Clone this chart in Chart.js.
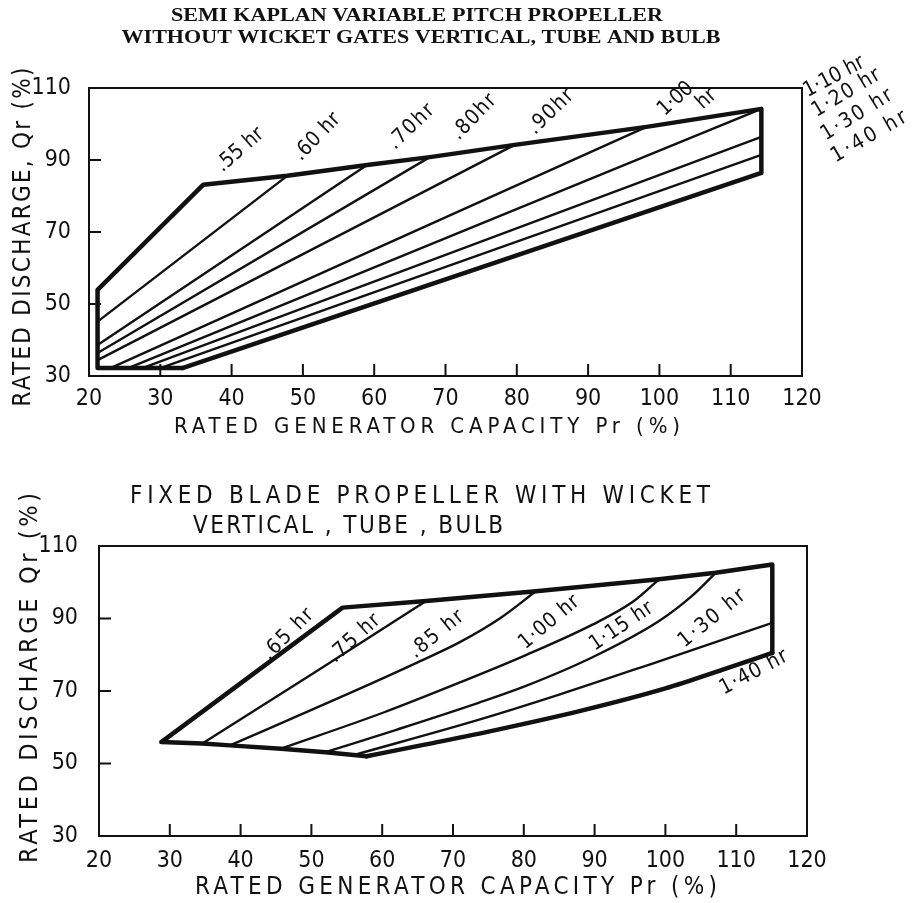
<!DOCTYPE html>
<html>
<head>
<meta charset="utf-8">
<script src="https://cdn.jsdelivr.net/npm/chart.js@4.4.1/dist/chart.umd.min.js"></script>
<style>
  html, body { margin: 0; padding: 0; background: #fff; }
  #wrap { position: relative; width: 912px; height: 903px; }
  canvas { position: absolute; left: 0; }
  #semi { top: 0; }
  #fixed { top: 445px; }
</style>
</head>
<body>
<div id="wrap">
  <canvas id="semi" width="912" height="445"></canvas>
  <canvas id="fixed" width="912" height="458"></canvas>
</div>
<script>
/******************************************************************
DATA  (x = rated generator capacity Pr %, y = rated discharge Qr %)
******************************************************************/

var xTicks = [20, 30, 40, 50, 60, 70, 80, 90, 100, 110, 120];
var yTicks = [30, 50, 70, 90, 110];

// semi kaplan: outer envelope (.55 hr edge, top edge, 1.40 hr edge)
var semiEnvelope = [[33.1, 32.2], [21.2, 32.2], [21.2, 53.9], [36.0, 83.1], [47.8, 85.6],
  [59.0, 88.6], [67.8, 90.8], [79.7, 94.2], [98.2, 99.2], [114.3, 104.2], [114.3, 86.4], [33.1, 32.2]];
var semi060 = [[21.2, 45.1], [47.8, 85.6]];
var semi070 = [[21.2, 38.6], [59.0, 88.6]];
var semi080 = [[21.2, 36.4], [67.8, 90.8]];
var semi090 = [[21.2, 34.4], [79.7, 94.2]];
var semi100 = [[23.0, 32.2], [98.2, 99.2]];
var semi110 = [[25.5, 32.2], [114.3, 104.2]];
var semi120 = [[27.5, 32.2], [114.3, 96.4]];
var semi130 = [[30.0, 32.2], [114.3, 91.4]];

// fixed blade: outer envelope (bottom edge, .65 hr edge, top edge, right edge)
var fixedEnvelope = [[57.8, 52.0], [52.0, 53.1], [45.7, 54.1], [38.5, 55.0], [34.6, 55.5], [28.8, 55.9],
  [54.4, 93.0], [66.2, 94.8], [81.7, 97.5], [99.1, 100.8], [107.1, 102.6], [115.1, 104.9], [115.1, 80.5]];
var fixed140 = [[57.8, 52.0], [66.0, 55.2], [76.0, 59.2], [88.0, 64.5], [100.0, 70.7], [108.0, 75.8], [115.1, 80.5]];
var fixed075 = [[34.6, 55.5], [50.5, 75.2], [66.2, 94.8]];
var fixed085 = [[38.5, 55.0], [55.4, 69.4], [65.0, 77.9], [70.9, 83.4], [76.6, 90.0], [81.7, 97.5]];
var fixed100 = [[45.7, 54.1], [60.1, 64.0], [70.9, 72.3], [80.3, 79.9], [89.7, 88.3], [95.4, 94.6], [99.1, 100.8]];
var fixed115 = [[52.1, 53.2], [62.0, 59.3], [73.7, 66.8], [80.3, 71.4], [89.7, 79.3], [99.1, 89.3], [103.8, 96.3], [107.1, 102.6]];
var fixed130 = [[56.3, 52.5], [73.7, 62.1], [85.0, 69.0], [99.1, 78.2], [115.1, 88.8]];

var semiHours = ['.55 hr', '.60 hr', '.70hr', '.80hr', '.90hr', '1·00', 'hr', '1·10 hr', '1·20 hr', '1·30 hr', '1·40 hr'];
var fixedHours = ['.65 hr', '.75 hr', '.85 hr', '1·00 hr', '1·15 hr', '1·30 hr', '1·40 hr'];


/******************************************************************
HELPERS
******************************************************************/

var ink = '#111';

function pickFont(list) {
  var c = document.createElement('canvas').getContext('2d');
  var probe = 'RATED 0123456789 hr';
  c.font = '40px monospace';
  var base = c.measureText(probe).width;
  for (var i = 0; i < list.length; i++) {
    c.font = "40px '" + list[i] + "', monospace";
    if (Math.abs(c.measureText(probe).width - base) > 0.5) return "'" + list[i] + "'";
  }
  return 'sans-serif';
}
var hand = pickFont(['Liberation Sans Narrow', 'DejaVu Sans Condensed', 'Liberation Sans']) + ', sans-serif';
var serif = "'Liberation Serif', 'DejaVu Serif', serif";

function path(points, width, smooth) {
  return {
    data: points.map(function (p) { return { x: p[0], y: p[1] }; }),
    showLine: true,
    borderColor: ink,
    borderWidth: width,
    pointRadius: 0,
    fill: false,
    tension: 0,
    cubicInterpolationMode: smooth ? 'monotone' : 'default',
    borderJoinStyle: 'round',
    borderCapStyle: 'round'
  };
}

// box round the plot and short ticks pointing inwards
var framePlugin = {
  id: 'frame',
  afterDatasetsDraw: function (chart) {
    var a = chart.chartArea, ctx = chart.ctx;
    var sx = chart.scales.x, sy = chart.scales.y;
    ctx.save();
    ctx.strokeStyle = ink;
    ctx.lineWidth = 2;
    ctx.strokeRect(a.left, a.top, a.right - a.left, a.bottom - a.top);
    ctx.beginPath();
    sx.ticks.forEach(function (t) {
      var px = sx.getPixelForValue(t.value);
      ctx.moveTo(px, a.bottom);
      ctx.lineTo(px, a.bottom - 12);
    });
    sy.ticks.forEach(function (t) {
      var py = sy.getPixelForValue(t.value);
      ctx.moveTo(a.left, py);
      ctx.lineTo(a.left + 12, py);
    });
    ctx.stroke();
    ctx.restore();
  }
};

// free text: titles, axis titles, hour labels on the curves
function notesPlugin(notes) {
  return {
    id: 'notes',
    afterDraw: function (chart) {
      var ctx = chart.ctx;
      notes.forEach(function (n) {
        var x = n.px ? n.px[0] : chart.scales.x.getPixelForValue(n.at[0]);
        var y = n.px ? n.px[1] : chart.scales.y.getPixelForValue(n.at[1]);
        ctx.save();
        ctx.translate(x, y);
        ctx.rotate((n.rot || 0) * Math.PI / 180);
        ctx.font = (n.bold ? 'bold ' : '') + n.size + 'px ' + (n.serif ? serif : hand);
        ctx.fillStyle = ink;
        ctx.textAlign = 'center';
        ctx.textBaseline = 'middle';
        if (n.w) {
          var w0 = ctx.measureText(n.t).width;
          if (n.fit === 'scale') {
            ctx.scale(n.w / w0, 1);
          } else {
            var sp = (n.w - w0) / Math.max(n.t.length - 1, 1);
            ctx.letterSpacing = sp.toFixed(2) + 'px';
            ctx.translate(sp / 2, 0);
          }
        }
        ctx.fillText(n.t, 0, 0);
        ctx.letterSpacing = '0px';
        ctx.restore();
      });
    }
  };
}

function makeChart(id, datasets, box, notes) {
  return new Chart(document.getElementById(id), {
    type: 'scatter',
    data: { datasets: datasets },
    options: {
      responsive: false,
      animation: false,
      events: [],
      layout: { padding: { top: box.top, right: box.right, left: 0, bottom: 0 } },
      plugins: { legend: { display: false }, tooltip: { enabled: false } },
      scales: {
        x: {
          type: 'linear', min: 20, max: 120,
          grid: { display: false }, border: { display: false },
          afterBuildTicks: function (s) { s.ticks = xTicks.map(function (v) { return { value: v }; }); },
          afterFit: function (s) { s.height = box.xh; },
          ticks: { color: ink, font: { family: hand, size: box.tick }, padding: box.xpad, maxRotation: 0, autoSkip: false }
        },
        y: {
          type: 'linear', min: 30, max: 110,
          grid: { display: false }, border: { display: false },
          afterBuildTicks: function (s) { s.ticks = yTicks.map(function (v) { return { value: v }; }); },
          afterFit: function (s) { s.width = box.yw; },
          ticks: { color: ink, font: { family: hand, size: box.tick }, padding: box.ypad, autoSkip: false }
        }
      }
    },
    plugins: [framePlugin, notesPlugin(notes)]
  });
}


/******************************************************************
SEMI KAPLAN CHART
******************************************************************/

makeChart('semi', [
  path(semiEnvelope, 4.5),
  path(semi060, 2.4), path(semi070, 2.4), path(semi080, 2.4), path(semi090, 2.4),
  path(semi100, 2.4), path(semi110, 2.4), path(semi120, 2.4), path(semi130, 2.4)
], { top: 88, right: 110, xh: 69, yw: 89, tick: 23, xpad: 1, ypad: 10 }, [
  { t: 'SEMI KAPLAN VARIABLE PITCH PROPELLER', px: [417, 16], size: 18, bold: true, serif: true, w: 492, fit: 'scale' },
  { t: 'WITHOUT WICKET GATES VERTICAL, TUBE AND BULB', px: [421, 38], size: 18, bold: true, serif: true, w: 599, fit: 'scale' },
  { t: 'RATED GENERATOR CAPACITY Pr (%)', px: [427, 427], size: 22, w: 506 },
  { t: 'RATED DISCHARGE, Qr (%)', px: [24, 237], rot: -90, size: 24, w: 339 },
  { t: semiHours[0], at: [41.2, 92.8], rot: -41, size: 21, w: 56 },
  { t: semiHours[1], at: [52.0, 96.4], rot: -46, size: 21, w: 58 },
  { t: semiHours[2], at: [65.2, 99.2], rot: -44, size: 21, w: 56 },
  { t: semiHours[3], at: [74.0, 101.9], rot: -46, size: 21, w: 55 },
  { t: semiHours[4], at: [84.8, 103.3], rot: -44, size: 21, w: 55 },
  { t: semiHours[5], at: [102.3, 106.9], rot: -42, size: 21, w: 40 },
  { t: semiHours[6], at: [106.6, 106.9], rot: -42, size: 21 },
  { t: semiHours[7], at: [124.5, 113.1], rot: -28, size: 21, w: 66 },
  { t: semiHours[8], at: [126.2, 108.6], rot: -31, size: 21, w: 76 },
  { t: semiHours[9], at: [127.7, 102.5], rot: -32, size: 21, w: 80 },
  { t: semiHours[10], at: [129.4, 96.4], rot: -30, size: 21, w: 84 }
]);


/******************************************************************
FIXED BLADE CHART
******************************************************************/

makeChart('fixed', [
  path(fixedEnvelope, 4.5),
  path(fixed140, 4.5, true),
  path(fixed075, 2.4, true), path(fixed085, 2.4, true), path(fixed100, 2.4, true),
  path(fixed115, 2.4, true), path(fixed130, 2.4, true)
], { top: 101, right: 105, xh: 67, yw: 99, tick: 23, xpad: 3, ypad: 13 }, [
  { t: 'FIXED BLADE PROPELLER WITH WICKET', px: [420, 52], size: 24, w: 580 },
  { t: 'VERTICAL , TUBE , BULB', px: [348, 82], size: 24, w: 310 },
  { t: 'RATED GENERATOR CAPACITY Pr (%)', px: [456, 443], size: 24, w: 522 },
  { t: 'RATED DISCHARGE Qr (%)', px: [30, 233], rot: -90, size: 25, w: 370 },
  { t: fixedHours[0], at: [46.7, 85.6], rot: -45, size: 21, w: 64 },
  { t: fixedHours[1], at: [56.1, 84.5], rot: -42, size: 21, w: 62 },
  { t: fixedHours[2], at: [67.7, 85.6], rot: -39, size: 21, w: 64 },
  { t: fixedHours[3], at: [83.6, 88.9], rot: -40, size: 21, w: 72 },
  { t: fixedHours[4], at: [93.8, 87.8], rot: -34, size: 21, w: 72 },
  { t: fixedHours[5], at: [106.6, 90.0], rot: -39, size: 21, w: 80 },
  { t: fixedHours[6], at: [112.5, 75.1], rot: -28, size: 21, w: 74 }
]);
</script>
</body>
</html>
